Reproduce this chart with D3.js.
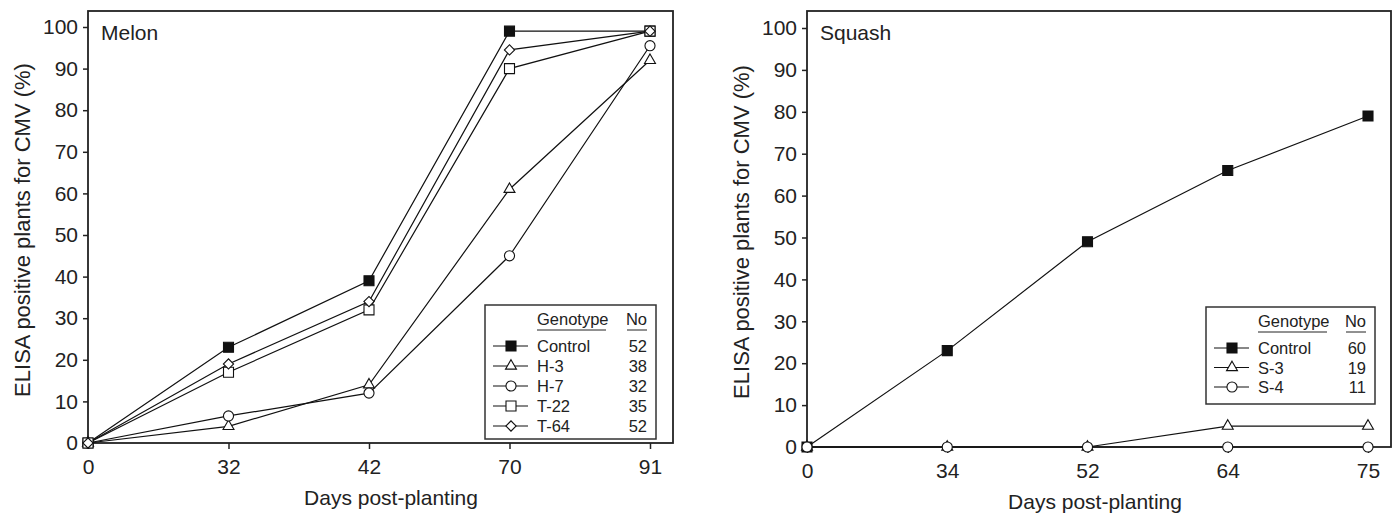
<!DOCTYPE html>
<html>
<head>
<meta charset="utf-8">
<script src="https://cdn.jsdelivr.net/npm/d3@7"></script>
<style>
  body { margin: 0; background: #fff; }
  svg text { font-family: "Liberation Sans", Arial, sans-serif; fill: #222; }
</style>
</head>
<body>
<svg id="chart" width="1396" height="515"></svg>
<script>
// melon panel
const melonDays = ['0', '32', '42', '70', '91']
const melonControl = [0, 23, 39, 99, 99]
const melonH3 = [0, 4, 14, 61, 92]
const melonH7 = [0, 6.5, 12, 45, 95.5]
const melonT22 = [0, 17, 32, 90, 99]
const melonT64 = [0, 19, 34, 94.5, 99]
const melonNames = ['Control', 'H-3', 'H-7', 'T-22', 'T-64']
const melonNo = [52, 38, 32, 35, 52]

// squash panel
const squashDays = ['0', '34', '52', '64', '75']
const squashControl = [0, 23, 49, 66, 79]
const squashS3 = [0, 0, 0, 5, 5]
const squashS4 = [0, 0, 0, 0, 0]
const squashNames = ['Control', 'S-3', 'S-4']
const squashNo = [60, 19, 11]

const yTicks = [0, 10, 20, 30, 40, 50, 60, 70, 80, 90, 100]

const svg = d3.select('#chart')

const shapes = {
  square: { type: d3.symbolSquare, size: 100, rot: 0 },
  triangle: { type: d3.symbolTriangle, size: 52, rot: 0 },
  circle: { type: d3.symbolCircle, size: 80, rot: 0 },
  diamond: { type: d3.symbolSquare, size: 52, rot: 45 }
}

function marker(g, shape, filled, tx, ty) {
  const s = shapes[shape]
  return g
    .append('path')
    .attr('d', d3.symbol().type(s.type).size(s.size)())
    .attr('transform', 'translate(' + tx + ',' + ty + ') rotate(' + s.rot + ')')
    .attr('fill', filled ? '#111' : '#fff')
    .attr('stroke', '#111')
    .attr('stroke-width', 1.1)
}

function drawPanel(p) {
  const g = svg.append('g')
  const x = d3.scalePoint().domain(p.days).range(p.xRange)
  const y = d3.scaleLinear().domain([0, 100]).range(p.yRange)
  const bottom = p.yRange[0]

  // frame
  g.append('rect')
    .attr('x', p.xRange[0])
    .attr('y', p.top)
    .attr('width', p.right - p.xRange[0])
    .attr('height', bottom - p.top)
    .attr('fill', 'none')
    .attr('stroke', '#222')
    .attr('stroke-width', 1.8)

  const yAxis = g
    .append('g')
    .attr('transform', 'translate(' + p.xRange[0] + ',0)')
    .call(d3.axisLeft(y).tickValues(yTicks).tickSize(5).tickPadding(5))
  const xAxis = g
    .append('g')
    .attr('transform', 'translate(0,' + bottom + ')')
    .call(d3.axisBottom(x).tickSize(6).tickPadding(10))
  ;[yAxis, xAxis].forEach((a) => {
    a.select('.domain').remove()
    a.selectAll('line').attr('stroke', '#222').attr('stroke-width', 1.5)
    a.selectAll('text').style('font-size', '21px').attr('fill', '#222')
  })

  g.append('text')
    .attr('transform', 'translate(' + (p.xRange[0] - 58) + ',' + p.yTitle + ') rotate(-90)')
    .attr('text-anchor', 'middle')
    .style('font-size', '22px')
    .text('ELISA positive plants for CMV (%)')
  g.append('text')
    .attr('x', p.xTitle)
    .attr('y', bottom + 62)
    .attr('text-anchor', 'middle')
    .style('font-size', '21px')
    .text('Days post-planting')
  g.append('text')
    .attr('x', p.xRange[0] + 13)
    .attr('y', p.top + 29)
    .style('font-size', '21px')
    .text(p.title)

  const line = d3
    .line()
    .x((d, i) => x(p.days[i]))
    .y((d) => y(d))

  p.series.forEach((s) => {
    g.append('path')
      .attr('d', line(s.values))
      .attr('fill', 'none')
      .attr('stroke', '#111')
      .attr('stroke-width', 1.2)
  })
  p.series.forEach((s) => {
    s.values.forEach((v, i) => {
      marker(g, s.shape, s.filled, x(p.days[i]), y(v))
    })
  })

  // legend
  const L = p.legend
  const lg = g.append('g').attr('transform', 'translate(' + L.x + ',' + L.y + ')')
  lg.append('rect')
    .attr('width', L.w)
    .attr('height', L.h)
    .attr('fill', '#fff')
    .attr('stroke', '#333')
    .attr('stroke-width', 1.5)
  lg.append('text').attr('x', 52).attr('y', 20).style('font-size', '16.5px').text('Genotype')
  lg.append('line').attr('x1', 52).attr('x2', 121).attr('y1', 25).attr('y2', 25).attr('stroke', '#222')
  lg.append('text').attr('x', L.w - 9).attr('y', 20).attr('text-anchor', 'end').style('font-size', '16.5px').text('No')
  lg.append('line').attr('x1', L.w - 29).attr('x2', L.w - 9).attr('y1', 25).attr('y2', 25).attr('stroke', '#222')
  p.series.forEach((s, i) => {
    const cy = 41 + i * L.step
    lg.append('line').attr('x1', 8).attr('x2', 43).attr('y1', cy).attr('y2', cy).attr('stroke', '#111').attr('stroke-width', 1.2)
    marker(lg, s.shape, s.filled, 26, cy)
    lg.append('text').attr('x', 52).attr('y', cy + 6).style('font-size', '16.5px').text(s.name)
    lg.append('text').attr('x', L.w - 9).attr('y', cy + 6).attr('text-anchor', 'end').style('font-size', '16.5px').text(p.no[i])
  })
}

drawPanel({
  title: 'Melon',
  days: melonDays,
  xRange: [88, 650],
  yRange: [443, 27],
  top: 11,
  right: 673,
  xTitle: 391,
  yTitle: 230,
  no: melonNo,
  series: [
    { name: melonNames[0], values: melonControl, shape: 'square', filled: true },
    { name: melonNames[1], values: melonH3, shape: 'triangle' },
    { name: melonNames[2], values: melonH7, shape: 'circle' },
    { name: melonNames[3], values: melonT22, shape: 'square' },
    { name: melonNames[4], values: melonT64, shape: 'diamond' }
  ],
  legend: { x: 485, y: 305, w: 171, h: 134, step: 20 }
})

drawPanel({
  title: 'Squash',
  days: squashDays,
  xRange: [807, 1368],
  yRange: [447, 28],
  top: 11,
  right: 1391,
  xTitle: 1095,
  yTitle: 232,
  no: squashNo,
  series: [
    { name: squashNames[0], values: squashControl, shape: 'square', filled: true },
    { name: squashNames[1], values: squashS3, shape: 'triangle' },
    { name: squashNames[2], values: squashS4, shape: 'circle' }
  ],
  legend: { x: 1206, y: 307, w: 169, h: 97, step: 19.5 }
})
</script>
</body>
</html>
